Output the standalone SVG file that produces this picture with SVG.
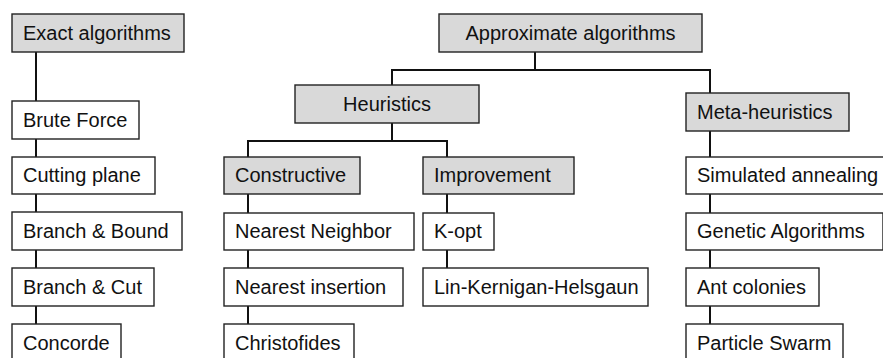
<svg xmlns="http://www.w3.org/2000/svg" width="883" height="358" viewBox="0 0 883 358">
<style>
.box rect{fill:#ffffff;stroke:#222;stroke-width:1.4}
.cat rect{fill:#d9d9d9;stroke:#222;stroke-width:1.4}
text{font-family:"Liberation Sans",Arial,sans-serif;font-size:20px;fill:#111}
.c{text-anchor:middle}
#connectors path{fill:none;stroke:#111;stroke-width:2}
</style>
<rect width="883" height="358" fill="#ffffff"/>
<g id="connectors">
<path d="M36 52V101M36 139V157M36 194V212M36 250V268M36 306V324"/>
<path d="M535 52V70M392 85V70H710V93"/>
<path d="M392 123V141M248 157V141H447V157"/>
<path d="M248 194V213M248 250V268M248 306V324"/>
<path d="M447 194V213M447 250V268"/>
<path d="M710 131V157M710 194V213M710 250V268M710 306V324"/>
</g>
<g id="exact" class="cat"><rect x="12" y="14" width="172" height="38"/><text x="23" y="40">Exact algorithms</text></g>
<g id="brute" class="box"><rect x="12" y="101" width="127" height="38"/><text x="23" y="127">Brute Force</text></g>
<g id="cutting" class="box"><rect x="12" y="157" width="143" height="37"/><text x="23" y="182">Cutting plane</text></g>
<g id="bnb" class="box"><rect x="12" y="212" width="170" height="38"/><text x="23" y="238">Branch &amp; Bound</text></g>
<g id="bnc" class="box"><rect x="12" y="268" width="142" height="38"/><text x="23" y="294">Branch &amp; Cut</text></g>
<g id="concorde" class="box"><rect x="12" y="324" width="109" height="40"/><text x="23" y="350">Concorde</text></g>
<g id="approx" class="cat"><rect x="439" y="14" width="263" height="38"/><text class="c" x="570.5" y="40">Approximate algorithms</text></g>
<g id="heuristics" class="cat"><rect x="295" y="85" width="184" height="38"/><text class="c" x="387" y="111">Heuristics</text></g>
<g id="meta" class="cat"><rect x="686" y="93" width="163" height="38"/><text x="697" y="119">Meta-heuristics</text></g>
<g id="constructive" class="cat"><rect x="224" y="157" width="136" height="37"/><text x="235" y="182">Constructive</text></g>
<g id="improvement" class="cat"><rect x="423" y="157" width="151" height="37"/><text x="434" y="182">Improvement</text></g>
<g id="nn" class="box"><rect x="224" y="213" width="190" height="37"/><text x="235" y="238">Nearest Neighbor</text></g>
<g id="ni" class="box"><rect x="224" y="268" width="179" height="38"/><text x="235" y="294">Nearest insertion</text></g>
<g id="christofides" class="box"><rect x="224" y="324" width="130" height="40"/><text x="235" y="350">Christofides</text></g>
<g id="kopt" class="box"><rect x="423" y="213" width="71" height="37"/><text x="434" y="238">K-opt</text></g>
<g id="lkh" class="box"><rect x="423" y="268" width="225" height="38"/><text x="434" y="294">Lin-Kernigan-Helsgaun</text></g>
<g id="sa" class="box"><rect x="686" y="157" width="205" height="37"/><text x="697" y="182">Simulated annealing</text></g>
<g id="ga" class="box"><rect x="686" y="213" width="197" height="37"/><text x="697" y="238">Genetic Algorithms</text></g>
<g id="ant" class="box"><rect x="686" y="268" width="133" height="38"/><text x="697" y="294">Ant colonies</text></g>
<g id="pso" class="box"><rect x="686" y="324" width="157" height="40"/><text x="697" y="350">Particle Swarm</text></g>
</svg>
